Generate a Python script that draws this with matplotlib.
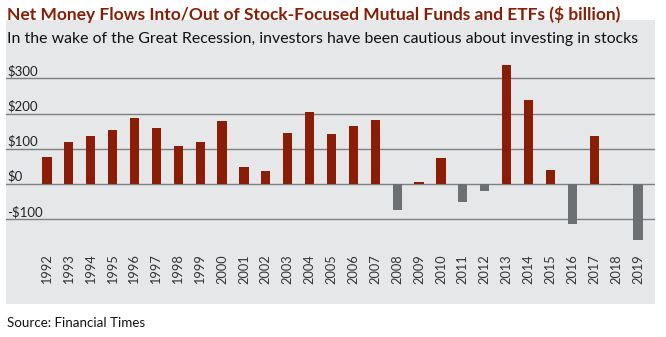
import matplotlib
matplotlib.use("Agg")
import matplotlib.pyplot as plt
import matplotlib.transforms as mtransforms

years = [str(y) for y in range(1992, 2020)]
flows = [77, 118, 137, 152, 188, 158, 109, 120, 179, 49, 36, 146, 204, 142,
         165, 181, -74, 5, 75, -51, -20, 337, 237, 40, -114, 136, -4, -158]
ytick_vals = [300, 200, 100, 0, -100]
ytick_labels = ["$300", "$200", "$100", "$0", "-$100"]

title = "Net Money Flows Into/Out of Stock-Focused Mutual Funds and ETFs ($ billion)"
subtitle = "In the wake of the Great Recession, investors have been cautious about investing in stocks"
source = "Source: Financial Times"

W, H = 666, 337
fig = plt.figure(figsize=(W / 100, H / 100), dpi=100)
fig.patch.set_facecolor("white")

def fx(px):
    return px / W

def fy(py):
    return 1 - py / H

RED = "#8C1D04"
GRAY_BAR = "#6D7073"
PANEL = "#E5E7E9"
GRID = "#7E8184"

bg = fig.add_axes([fx(6), fy(304), fx(655) - fx(6), fy(20) - fy(304)], zorder=0)
bg.set_facecolor(PANEL)
bg.set_xticks([]); bg.set_yticks([])
for s in bg.spines.values():
    s.set_visible(False)

ax_top, ax_bot = 60, 250
ax = fig.add_axes([fx(6), fy(ax_bot), fx(655) - fx(6), fy(ax_top) - fy(ax_bot)], zorder=2)
ax.set_facecolor("none")
zero_px, per100 = 184.0, 35.25
ax.set_ylim(-(ax_bot - zero_px) / per100 * 100, (zero_px - ax_top) / per100 * 100)
ax.set_xlim(-1.87, 27.78)

xs = list(range(len(years)))
colors = [RED if v > 0 else GRAY_BAR for v in flows]
ax.bar(xs, flows, width=0.42, color=colors, zorder=3)

for v in ytick_vals:
    ax.axhline(v, color=GRID, lw=1.0, zorder=1)
trans = mtransforms.blended_transform_factory(ax.transAxes, ax.transData)
for v, lab in zip(ytick_vals, ytick_labels):
    ax.text(0.002, v + 3, lab, transform=trans, ha="left", va="bottom",
            fontsize=9.5, family="Lato", color="#222222", zorder=4)

ax.set_yticks([])
ax.set_xticks(xs)
ax.set_xticklabels(years, rotation=90, fontsize=9.2, family="Lato", color="#333333")
ax.tick_params(axis="x", length=0, pad=3)
for s in ax.spines.values():
    s.set_visible(False)

def fit_text(x, y, s, width_px, size, **kw):
    t = fig.text(x, y, s, fontsize=size, **kw)
    r = fig.canvas.get_renderer()
    w = t.get_window_extent(r).width
    t.set_fontsize(size * width_px / w)
    return t

fit_text(fx(7), fy(20), title, 615, 10, ha="left", va="baseline",
         fontweight="bold", family="Lato", color=RED)
fit_text(fx(7), fy(43), subtitle, 630, 10, ha="left", va="baseline",
         family="Lato", color="#111111")
fit_text(fx(7), fy(327), source, 138, 9, ha="left", va="baseline",
         family="Lato", color="#111111")

fig.savefig("out.png", dpi=100)
